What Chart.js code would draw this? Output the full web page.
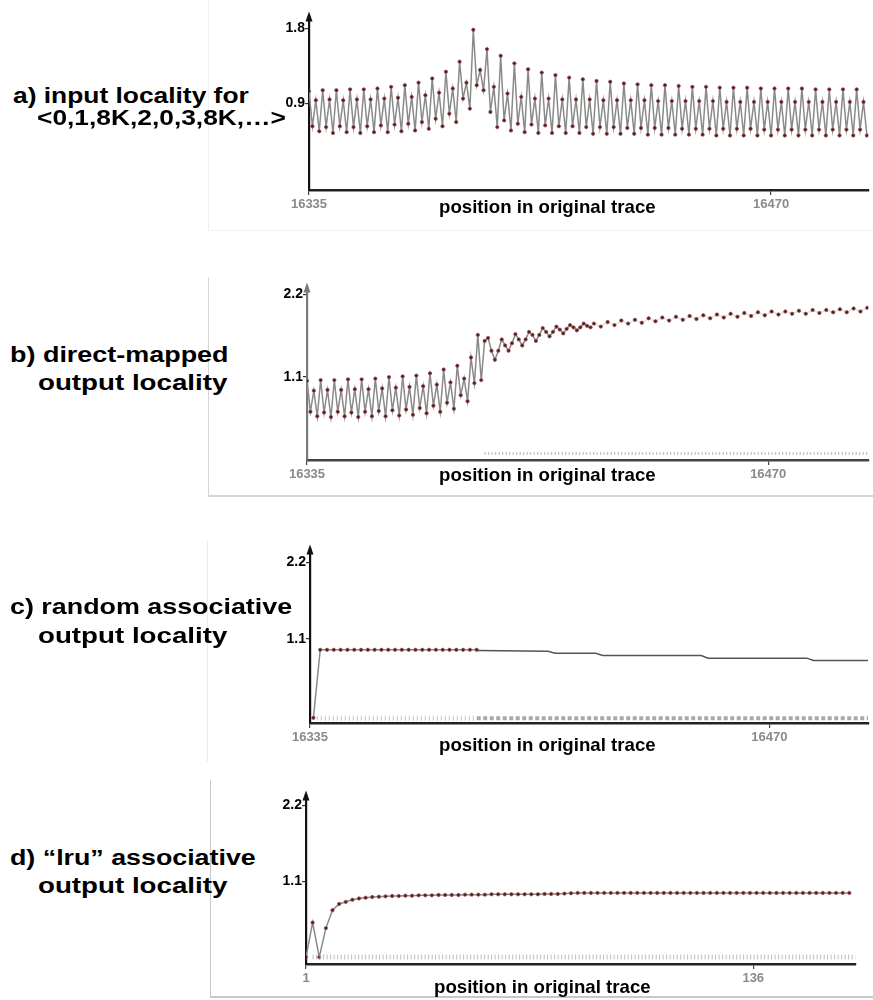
<!DOCTYPE html>
<html>
<head>
<meta charset="utf-8">
<script src="https://cdn.jsdelivr.net/npm/chart.js@4.4.1/dist/chart.umd.min.js"></script>
<style>
  body { margin: 0; background: #fff; width: 873px; height: 1000px; position: relative; overflow: hidden;
         font-family: "Liberation Sans", Arial, sans-serif; }
  .panel { position: absolute; }
  .lbl { position: absolute; font-weight: bold; font-size: 22px; line-height: 24px; white-space: nowrap;
         transform-origin: 0 0; color: #000; z-index: 5; }
  .xtitle { position: absolute; font-weight: bold; font-size: 19px; line-height: 20px; white-space: nowrap;
            transform-origin: 0 0; color: #000; z-index: 5; }
  .frame { position: absolute; border: 0 solid #e4e4e4; }
</style>
</head>
<body>
<div class="frame" style="left:208px;top:0;width:665px;height:230px;border-left-width:1px;border-bottom-width:1px;border-color:#f0f0f0"></div>
<div class="frame" style="left:208px;top:277px;width:665px;height:218px;border-left-width:1px;border-bottom-width:2px;border-color:#d6d6d6"></div>
<div class="frame" style="left:207px;top:540px;width:666px;height:222px;border-left-width:1px;border-color:#ececec"></div>
<div class="frame" style="left:210px;top:780px;width:663px;height:216px;border-left-width:1px;border-bottom-width:2px;border-color:#c8c8c8"></div>

<script>
/* 4 panels: input / direct-mapped / random assoc / lru assoc locality */

// ---- a) input locality (one value per trace position, from 16335) ----
const aStart = 16335;
const aTicksX = [16335, 16470];
const aTicksY = [0.9, 1.8];
const aValues = [
  1.05, 0.63, 0.94, 0.57,  1.06, 0.62, 0.95, 0.55,  1.06, 0.63, 0.94, 0.56,  1.07, 0.62, 0.95, 0.55,
  1.07, 0.63, 0.95, 0.56,  1.08, 0.64, 0.96, 0.56,  1.10, 0.65, 0.97, 0.57,  1.12, 0.66, 0.98, 0.58,
  1.15, 0.68, 1.00, 0.60,  1.20, 0.72, 1.03, 0.63,  1.28, 0.78, 1.08, 0.68,  1.40, 0.96, 1.15, 0.84,
  1.78, 1.12, 1.30, 1.06,  1.55, 0.80, 1.10, 0.62,  1.47, 0.70, 1.02, 0.58,  1.38, 0.66, 0.98, 0.56,
  1.31, 0.65, 0.96, 0.55,  1.27, 0.64, 0.96, 0.55,  1.24, 0.63, 0.95, 0.55,  1.21, 0.63, 0.95, 0.55,
  1.19, 0.62, 0.95, 0.54,  1.17, 0.62, 0.94, 0.54,  1.16, 0.62, 0.94, 0.54,  1.14, 0.61, 0.94, 0.54,
  1.13, 0.61, 0.94, 0.53,  1.12, 0.61, 0.93, 0.53,  1.12, 0.61, 0.93, 0.53,  1.11, 0.60, 0.93, 0.53,
  1.10, 0.60, 0.93, 0.53,  1.10, 0.60, 0.93, 0.52,  1.09, 0.60, 0.92, 0.52,  1.09, 0.60, 0.92, 0.52,
  1.09, 0.60, 0.92, 0.52,  1.08, 0.59, 0.92, 0.52,  1.08, 0.59, 0.92, 0.52,  1.08, 0.59, 0.92, 0.52,
  1.08, 0.59, 0.92, 0.52,  1.07, 0.59, 0.92, 0.52,  1.07, 0.59, 0.92, 0.52,  1.07, 0.59, 0.92, 0.52,
  1.07, 0.59, 0.92, 0.52,
];

// ---- b) direct-mapped output locality ----
const bTicksX = [16335, 16470];
const bTicksY = [1.1, 2.2];
// positions 16335..16418, every position
const bHeadStart = 16335;
const bHeadValues = [
  1.05, 0.64, 0.92, 0.58,  1.06, 0.63, 0.93, 0.57,  1.06, 0.64, 0.93, 0.58,  1.07, 0.63, 0.94, 0.57,
  1.07, 0.64, 0.94, 0.58,  1.08, 0.65, 0.95, 0.58,  1.10, 0.66, 0.96, 0.59,  1.11, 0.67, 0.97, 0.60,
  1.12, 0.69, 0.98, 0.62,  1.15, 0.72, 1.00, 0.64,  1.20, 0.76, 1.03, 0.68,  1.25, 0.86, 1.08, 0.78,
  1.36, 1.02, 1.66, 1.06,  1.58, 1.62, 1.45, 1.33,  1.45, 1.60, 1.52, 1.45,  1.55, 1.67, 1.60, 1.52,
  1.60, 1.70, 1.66, 1.58,  1.66, 1.75, 1.70, 1.64,  1.70, 1.77, 1.73, 1.68,  1.74, 1.79, 1.76, 1.72,
  1.76, 1.81, 1.78, 1.76,
];
// positions 16419..16499, every 2nd position
const bTailStart = 16419;
const bTailStep = 2;
const bTailValues = [
  1.81, 1.77, 1.83, 1.79, 1.85, 1.81, 1.86, 1.82, 1.88, 1.84, 1.89, 1.85, 1.90, 1.86, 1.91, 1.87,
  1.92, 1.88, 1.93, 1.89, 1.94, 1.90, 1.95, 1.91, 1.96, 1.92, 1.97, 1.93, 1.97, 1.94, 1.98, 1.94,
  1.99, 1.95, 1.99, 1.96, 2.00, 1.96, 2.01, 1.97, 2.02,
];
const bLowX = [16387, 16499];
const bLowY = [0.085, 0.085];

// ---- c) random associative output locality ----
const cTicksX = [16335, 16470];
const cTicksY = [1.1, 2.2];
const cHeadX = [16336, 16338, 16340, 16342, 16344, 16346, 16348, 16350, 16352, 16354, 16356, 16358, 16360,
                16362, 16364, 16366, 16368, 16370, 16372, 16374, 16376, 16378, 16380, 16382, 16384];
const cHeadY = [-0.04, 0.94, 0.94, 0.94, 0.94, 0.94, 0.94, 0.94, 0.94, 0.94, 0.94, 0.94, 0.94,
                0.94, 0.94, 0.94, 0.94, 0.94, 0.94, 0.94, 0.94, 0.94, 0.94, 0.94, 0.94];
const cTailX = [16384, 16405, 16407, 16419, 16421, 16450, 16452, 16481, 16483, 16499];
const cTailY = [0.93, 0.92, 0.89, 0.89, 0.857, 0.857, 0.82, 0.82, 0.786, 0.786];
const cLowAX = [16337, 16384];
const cLowAY = [-0.045, -0.045];
const cLowBX = [16384, 16499];
const cLowBY = [-0.045, -0.045];

// ---- d) "lru" associative output locality (every 2nd position, from 1) ----
const dStart = 1;
const dStep = 2;
const dTicksX = [1, 136];
const dTicksY = [1.1, 2.2];
const dValues = [
  0.0, 0.50, 0.0, 0.42, 0.68, 0.77, 0.80, 0.83, 0.85, 0.86, 0.87, 0.875, 0.88, 0.885, 0.885, 0.89,
  0.89, 0.895, 0.895, 0.895, 0.90, 0.90, 0.90, 0.90, 0.905, 0.905, 0.905, 0.905, 0.91, 0.91, 0.91, 0.91,
  0.91, 0.91, 0.91, 0.91, 0.915, 0.915, 0.915, 0.92, 0.925, 0.93, 0.93, 0.93, 0.93, 0.93, 0.93, 0.93,
  0.93, 0.93, 0.93, 0.93, 0.93, 0.93, 0.93, 0.93, 0.93, 0.93, 0.93, 0.93, 0.93, 0.93, 0.93, 0.93,
  0.93, 0.93, 0.93, 0.93, 0.93, 0.93, 0.93, 0.93, 0.93, 0.93, 0.93, 0.93, 0.93, 0.93, 0.93, 0.93,
  0.93, 0.93, 0.93,
];
const dLowX = [3, 167];
const dLowY = [0.0, 0.0];

const LINE = "#8a8a8a";
const DOT_FILL = "#4a2020";
const DOT_EDGE = "#a05050";
const FONT = "'Liberation Sans', Arial, sans-serif";

const pairs = (xs, ys) => ys.map((y, i) => ({ x: xs[i], y }));
const seq = (start, step, ys) => ys.map((y, i) => ({ x: start + i * step, y }));

const mainSeries = (data, lineColor) => ({
  data, borderColor: lineColor || LINE, borderWidth: 1.5, tension: 0,
  pointRadius: 1.7, pointBackgroundColor: DOT_FILL, pointBorderColor: DOT_EDGE, pointBorderWidth: 0.7,
});
const tickRow = (data, color, width, dash) => ({
  data, borderColor: color, borderWidth: width, borderDash: dash, pointRadius: 0,
});

const arrowPlugin = {
  id: "arrowTip",
  afterDraw(chart, args, opts) {
    const { ctx, chartArea } = chart;
    const x = chartArea.left, y = chartArea.top;
    ctx.save();
    ctx.fillStyle = opts.color || "#111";
    ctx.beginPath();
    ctx.moveTo(x, y - 5);
    ctx.lineTo(x - 3.5, y + 5);
    ctx.lineTo(x + 3.5, y + 5);
    ctx.closePath();
    ctx.fill();
    ctx.restore();
  },
};

function makePanel(p, datasets) {
  const yW = 44, xH = 34, padTop = 7;
  const left = p.axisLeft - yW, top = p.axisTop - padTop;
  const box = document.createElement("div");
  box.className = "panel";
  box.style.left = left + "px";
  box.style.top = top + "px";
  box.style.width = (p.right - left) + "px";
  box.style.height = (p.axisBottom - top + xH) + "px";
  const cv = document.createElement("canvas");
  box.appendChild(cv);
  document.body.appendChild(box);

  new Chart(cv, {
    type: "line",
    data: { datasets },
    plugins: [arrowPlugin],
    options: {
      responsive: true,
      maintainAspectRatio: false,
      animation: false,
      layout: { padding: { top: padTop, right: 0, left: 0, bottom: 0 } },
      plugins: { legend: { display: false }, tooltip: { enabled: false }, arrowTip: { color: p.yColor } },
      scales: {
        x: {
          type: "linear", min: p.xMin, max: p.xMax,
          afterBuildTicks: (s) => { s.ticks = p.xTicks.map((v) => ({ value: v })); },
          afterFit: (s) => { s.height = xH; },
          ticks: { color: "#8a8a8a", font: { family: FONT, size: 13, weight: "bold" }, padding: 2,
                   maxRotation: 0, autoSkip: false, callback: (v) => String(v) },
          grid: { drawOnChartArea: false, drawTicks: true, tickLength: 5, color: "#444", lineWidth: 1.2 },
          border: { display: true, color: p.xColor, width: 2.5 },
        },
        y: {
          type: "linear", min: p.yMin, max: p.yMax,
          afterBuildTicks: (s) => { s.ticks = p.yTicks.map((v) => ({ value: v })); },
          afterFit: (s) => { s.width = yW; },
          ticks: { color: "#000", font: { family: FONT, size: 14, weight: "bold" }, padding: 0,
                   callback: (v) => v.toFixed(1) },
          grid: { drawOnChartArea: false, drawTicks: true, tickLength: 4, color: "#333", lineWidth: 1.2 },
          border: { display: true, color: p.yColor, width: 2.2 },
        },
      },
    },
  });
}

makePanel(
  { axisLeft: 309, axisTop: 15, axisBottom: 190, right: 873, xMin: 16335, xMax: 16498.4,
    yMin: -0.13, yMax: 1.94, xTicks: aTicksX, yTicks: aTicksY, xColor: "#222", yColor: "#111" },
  [mainSeries(seq(aStart, 1, aValues))]
);
makePanel(
  { axisLeft: 307, axisTop: 286, axisBottom: 460, right: 873, xMin: 16335, xMax: 16499.3,
    yMin: 0, yMax: 2.29, xTicks: bTicksX, yTicks: bTicksY, xColor: "#444", yColor: "#7a7a7a" },
  [
    tickRow(pairs(bLowX, bLowY), "#b5b5b5", 3, [1, 2.5]),
    mainSeries(seq(bHeadStart, 1, bHeadValues)),
    mainSeries(seq(bTailStart, bTailStep, bTailValues), "#e2e2e2"),
  ]
);
makePanel(
  { axisLeft: 310, axisTop: 548, axisBottom: 723, right: 873, xMin: 16335, xMax: 16499.1,
    yMin: -0.114, yMax: 2.386, xTicks: cTicksX, yTicks: cTicksY, xColor: "#222", yColor: "#111" },
  [
    tickRow(pairs(cLowAX, cLowAY), "#c4c4c4", 5, [1, 3]),
    tickRow(pairs(cLowBX, cLowBY), "#a8a8a8", 4, [4, 2.5]),
    { data: pairs(cTailX, cTailY), borderColor: "#555", borderWidth: 1.5, pointRadius: 0, tension: 0 },
    mainSeries(pairs(cHeadX, cHeadY)),
  ]
);
makePanel(
  { axisLeft: 306, axisTop: 794, axisBottom: 964, right: 860, xMin: 1, xMax: 166.8,
    yMin: -0.1, yMax: 2.343, xTicks: dTicksX, yTicks: dTicksY, xColor: "#222", yColor: "#111" },
  [tickRow(pairs(dLowX, dLowY), "#bdbdbd", 5, [1, 2.5]), mainSeries(seq(dStart, dStep, dValues))]
);

// ---- text: left captions and x-axis titles ----
const captions = [
  { t: "a) input locality for", x: 13, cy: 96, w: 236 },
  { t: "<0,1,8K,2,0,3,8K,\u2026>", x: 37, cy: 118, w: 249 },
  { t: "b) direct-mapped", x: 10, cy: 355, w: 218 },
  { t: "output locality", x: 38, cy: 383, w: 189 },
  { t: "c) random associative", x: 10, cy: 607, w: 282 },
  { t: "output locality", x: 38, cy: 636, w: 189 },
  { t: "d) \u201clru\u201d associative", x: 10, cy: 858, w: 246 },
  { t: "output locality", x: 38, cy: 886, w: 189 },
];
const titles = [
  { x: 439, cy: 207, w: 217 },
  { x: 439, cy: 475, w: 217 },
  { x: 439, cy: 745, w: 217 },
  { x: 434, cy: 987, w: 217 },
];

function placeText(cls, text, x, cy, w) {
  const el = document.createElement("div");
  el.className = cls;
  el.textContent = text;
  document.body.appendChild(el);
  const h = el.offsetHeight;
  el.style.left = x + "px";
  el.style.top = (cy - h / 2) + "px";
  el.style.transform = `scaleX(${w / el.offsetWidth})`;
}
captions.forEach((c) => placeText("lbl", c.t, c.x, c.cy, c.w));
titles.forEach((c) => placeText("xtitle", "position in original trace", c.x, c.cy, c.w));
</script>
</body>
</html>
